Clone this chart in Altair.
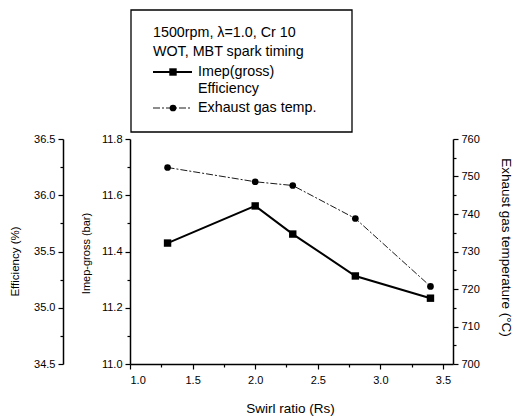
import altair as alt
import pandas as pd

swirl = [1.3, 2.0, 2.3, 2.8, 3.4]
imep = [11.43, 11.562, 11.462, 11.313, 11.234]
exh_temp = [752.4, 748.6, 747.6, 738.8, 720.7]
eff_domain = [34.5, 36.5]

x_ticks = [1.0 + 0.25 * i for i in range(11)]
imep_ticks = [round(11.0 + 0.1 * i, 1) for i in range(9)]
eff_ticks = [34.5 + 0.25 * i for i in range(9)]
temp_ticks = [700 + 5 * i for i in range(13)]

FONT = "Liberation Sans"

df = pd.DataFrame({"swirl": swirl, "imep": imep, "temp": exh_temp})
eff_df = pd.DataFrame({"eff": eff_domain, "swirl": [1.0, 1.0]})

xscale = alt.Scale(domain=[1.0, 3.58], nice=False, zero=False)

common_axis = dict(
    labelFont=FONT, titleFont=FONT, labelColor="black", titleColor="black",
    domainColor="black", tickColor="black", domainWidth=1.5, tickWidth=1.2,
    grid=False, labelFontSize=11, titleFontWeight="normal",
)

x_axis = alt.Axis(
    values=x_ticks,
    labelExpr="round(datum.value*4)%2==0 ? format(datum.value,'.1f') : ''",
    tickSize={"condition": {"test": "round(datum.value*4)%2==0", "value": 5}, "value": 3},
    title="Swirl ratio (Rs)", titleFontSize=13.5, titleX=160, titleY=44,
    titleAlign="center", titleBaseline="middle", labelPadding=5,
    **common_axis,
)

imep_axis = alt.Axis(
    orient="left", values=imep_ticks,
    labelExpr="round(datum.value*10)%2==0 ? format(datum.value,'.1f') : ''",
    tickSize={"condition": {"test": "round(datum.value*10)%2==0", "value": 5}, "value": 3},
    title="Imep-gross (bar)", titleFontSize=11, titleX=-44, titleY=114,
    titleAngle=-90, titleAlign="center", titleBaseline="middle", labelPadding=3,
    **common_axis,
)

eff_axis = alt.Axis(
    orient="left", offset=67, values=eff_ticks,
    labelExpr="round(datum.value*4)%2==0 ? format(datum.value,'.1f') : ''",
    tickSize={"condition": {"test": "round(datum.value*4)%2==0", "value": 5}, "value": 3},
    title="Efficiency (%)", titleFontSize=11.5, titleX=-48, titleY=122,
    titleAngle=-90, titleAlign="center", titleBaseline="middle", labelPadding=3,
    **common_axis,
)

temp_axis = alt.Axis(
    orient="right", values=temp_ticks,
    labelExpr="datum.value%10==0 ? format(datum.value,'d') : ''",
    tickSize={"condition": {"test": "datum.value%10==0", "value": 5}, "value": 3},
    title="Exhaust gas temperature (°C)", titleFontSize=13.5, titleX=52, titleY=108,
    titleAngle=90, titleAlign="center", titleBaseline="middle", labelPadding=3,
    **common_axis,
)

base = alt.Chart(df)

imep_layer = base.mark_line(
    color="black", strokeWidth=2,
    point=alt.OverlayMarkDef(shape="square", filled=True, color="black", size=55, opacity=1),
).encode(
    x=alt.X("swirl:Q", scale=xscale, axis=x_axis),
    y=alt.Y("imep:Q", scale=alt.Scale(domain=[11.0, 11.8], nice=False, zero=False), axis=imep_axis),
)

eff_layer = alt.Chart(eff_df).mark_point(opacity=0).encode(
    x=alt.X("swirl:Q", scale=xscale, axis=x_axis),
    y=alt.Y("eff:Q", scale=alt.Scale(domain=eff_domain, nice=False, zero=False), axis=eff_axis),
)

temp_layer = base.mark_line(
    color="black", strokeWidth=0.9, strokeDash=[7, 2, 2, 2],
    point=alt.OverlayMarkDef(shape="circle", filled=True, color="black", size=45, opacity=1, strokeDash=[1, 0]),
).encode(
    x=alt.X("swirl:Q", scale=xscale, axis=x_axis),
    y=alt.Y("temp:Q", scale=alt.Scale(domain=[700, 760], nice=False, zero=False), axis=temp_axis),
)

# legend box (pixel positions relative to plot area)
leg = alt.Chart(pd.DataFrame({"a": [0]}))
box = leg.mark_rect(fill="white", stroke="black", strokeWidth=1.3).encode(
    x=alt.value(1), x2=alt.value(222), y=alt.value(-129), y2=alt.value(-7)
)
leg_lines = [
    ("1500rpm, λ=1.0, Cr 10", 23, -106),
    ("WOT, MBT spark timing", 23, -87),
    ("Imep(gross)", 68, -67),
    ("Efficiency", 68, -50),
    ("Exhaust gas temp.", 68, -31),
]
texts = [
    leg.mark_text(align="left", baseline="middle", font=FONT, fontSize=14.3, color="black").encode(
        x=alt.value(xx), y=alt.value(yy), text=alt.value(t)
    )
    for t, xx, yy in leg_lines
]
sym1 = leg.mark_rule(color="black", strokeWidth=2).encode(
    x=alt.value(23), x2=alt.value(62), y=alt.value(-67)
)
sym1p = leg.mark_point(shape="square", filled=True, color="black", size=55, opacity=1).encode(
    x=alt.value(43), y=alt.value(-67)
)
sym2 = leg.mark_rule(color="black", strokeWidth=0.9, strokeDash=[7, 2, 2, 2]).encode(
    x=alt.value(23), x2=alt.value(62), y=alt.value(-31)
)
sym2p = leg.mark_point(shape="circle", filled=True, color="black", size=45, opacity=1).encode(
    x=alt.value(43), y=alt.value(-31)
)

chart = alt.layer(
    imep_layer, eff_layer, temp_layer, box, *texts, sym1, sym1p, sym2, sym2p
).resolve_scale(
    y="independent"
).properties(
    width=323, height=225,
    autosize=alt.AutoSizeParams(type="none"),
    padding={"left": 130, "top": 139, "right": 60, "bottom": 53},
    background="white",
).configure_view(stroke=None)

chart.save("out.html", embed_options={"renderer": "svg", "actions": False})
